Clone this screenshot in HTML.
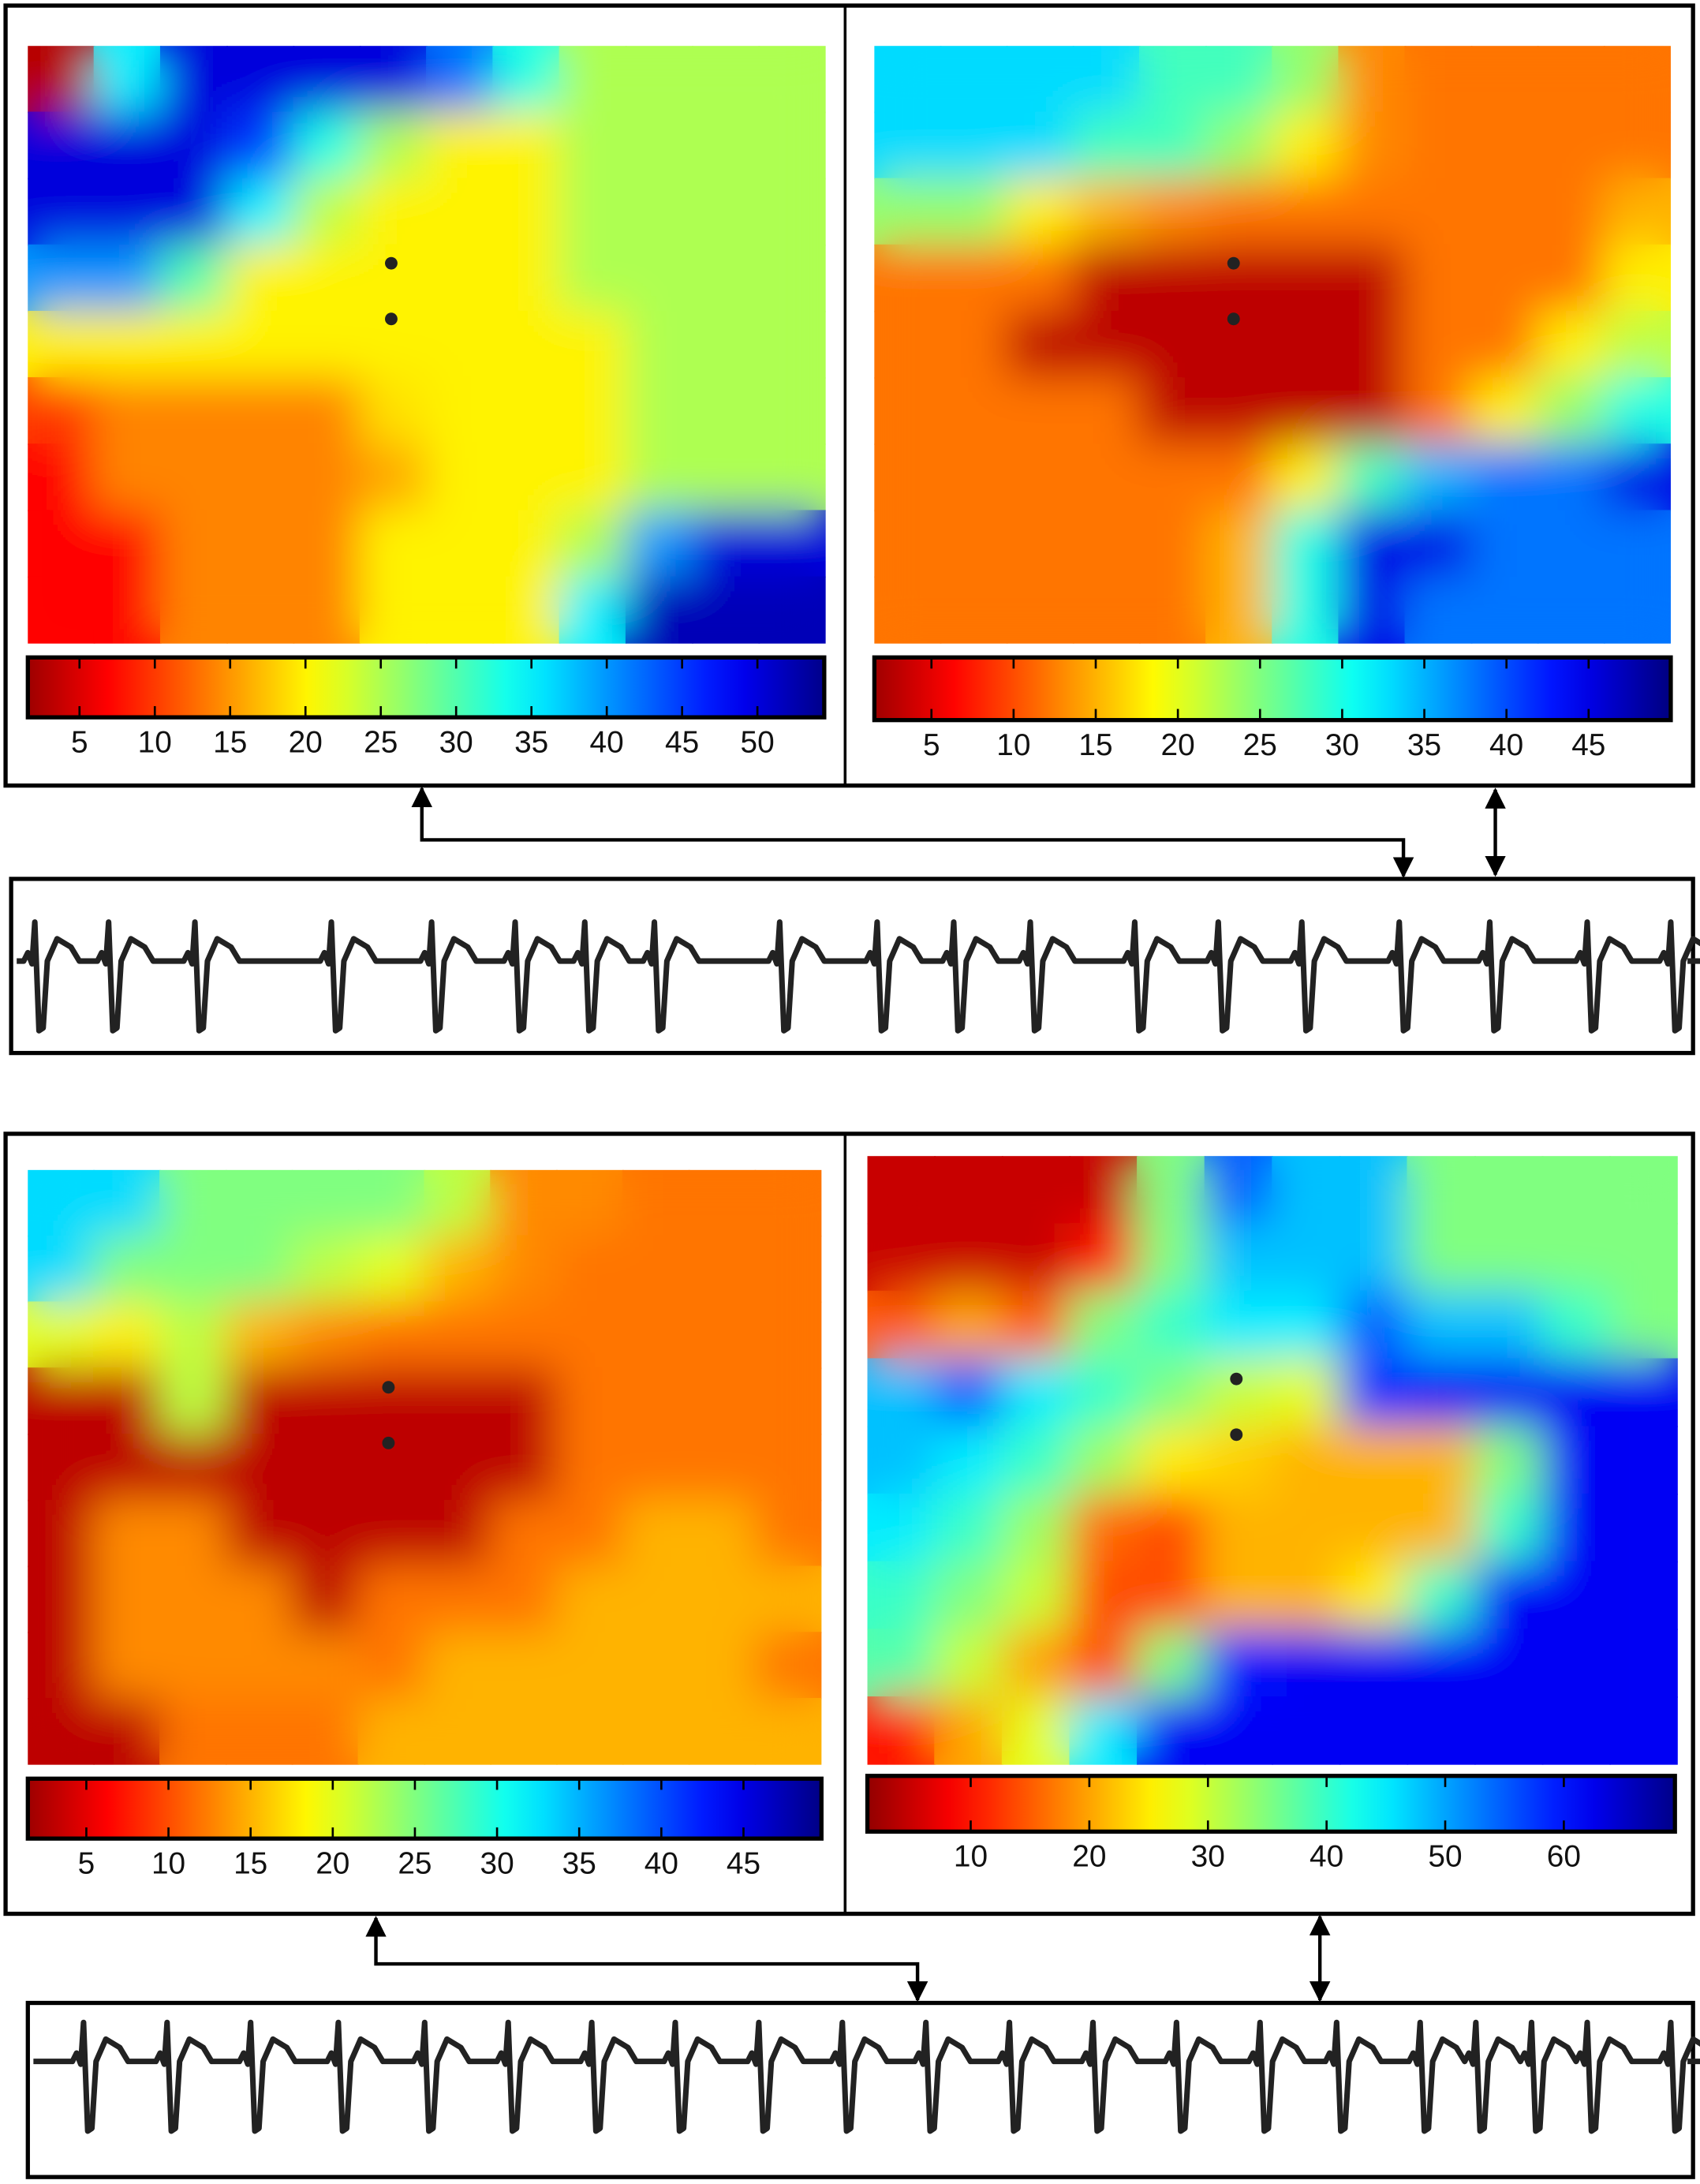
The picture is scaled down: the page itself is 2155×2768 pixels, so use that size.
<!DOCTYPE html>
<html><head><meta charset="utf-8"><style>
html,body{margin:0;padding:0;background:#fff;}
svg{display:block;}
text{font-family:"Liberation Sans",sans-serif;font-size:22px;fill:#111;}
</style></head><body>
<svg id="fig" xmlns="http://www.w3.org/2000/svg" width="2155" height="2768" viewBox="0 0 1221 1568" preserveAspectRatio="none">
<defs>
<filter id="blur" x="-5%" y="-5%" width="110%" height="110%"><feGaussianBlur stdDeviation="16"/></filter>
<marker id="ah" viewBox="0 0 10 10" refX="9" refY="5" markerWidth="6" markerHeight="6" orient="auto-start-reverse"><path d="M0,0L10,5L0,10z" fill="#000"/></marker>
</defs>
<rect x="4" y="4" width="1212" height="560" fill="none" stroke="#000" stroke-width="3"/>
<line x1="607" y1="4" x2="607" y2="564" stroke="#000" stroke-width="2"/>
<rect x="4" y="814" width="1212" height="560" fill="none" stroke="#000" stroke-width="3"/>
<line x1="607" y1="814" x2="607" y2="1374" stroke="#000" stroke-width="2"/>
<rect x="8" y="631" width="1208" height="125" fill="none" stroke="#000" stroke-width="3"/>
<rect x="20" y="1438" width="1196" height="125" fill="none" stroke="#000" stroke-width="3"/>
<polyline points="303,566 303,603 1008,603 1008,629" fill="none" stroke="#000" stroke-width="2.5" marker-start="url(#ah)" marker-end="url(#ah)"/>
<line x1="1074" y1="567" x2="1074" y2="628" stroke="#000" stroke-width="2.5" marker-start="url(#ah)" marker-end="url(#ah)"/>
<polyline points="270,1377 270,1410 659,1410 659,1436" fill="none" stroke="#000" stroke-width="2.5" marker-start="url(#ah)" marker-end="url(#ah)"/>
<line x1="948" y1="1376" x2="948" y2="1436" stroke="#000" stroke-width="2.5" marker-start="url(#ah)" marker-end="url(#ah)"/>
<g id="layer"></g>
</svg>
<script>
const map1Values=[
[3,35,50,50,50,50,42,33,25,25,25,25],
[50,50,50,45,33,25,20,20,25,25,25,25],
[50,50,50,35,24,20,20,20,25,25,25,25],
[40,40,30,20,20,20,20,20,25,25,25,25],
[20,20,20,20,20,20,20,20,20,25,25,25],
[10,14,14,14,14,19,20,20,20,25,25,25],
[7,14,14,14,14,16,20,20,20,25,25,25],
[7,7,14,14,14,20,20,20,25,40,50,50],
[7,7,14,14,14,20,20,20,35,52,52,52]];
const map2Values=[
[33,33,33,33,28,28,24,13,12,12,12,12],
[33,33,33,28,28,24,18,13,12,12,12,12],
[24,24,18,15,13,12,12,12,12,12,12,15],
[12,12,12,3,3,3,3,3,12,12,12,18],
[12,12,3,3,3,3,3,3,12,12,18,22],
[12,12,12,12,3,3,3,3,12,18,24,30],
[12,12,12,12,12,12,18,28,35,38,38,45],
[12,12,12,12,12,15,30,45,45,38,38,38],
[12,12,12,12,12,15,30,45,38,38,38,38]];
const map3Values=[
[33,33,25,25,25,25,22,13,13,12,12,12],
[33,25,25,25,22,20,15,13,12,12,12,12],
[20,18,22,15,13,12,12,12,12,12,12,12],
[3,3,22,3,3,3,3,3,12,12,12,12],
[3,3,3,3,3,3,3,3,12,12,12,12],
[3,13,13,3,3,3,3,12,12,15,15,12],
[3,13,13,13,3,12,12,12,15,15,15,15],
[3,13,13,13,13,12,15,15,15,15,15,12],
[3,3,12,12,12,15,15,15,15,15,15,15]];
const map4Values=[
[5,5,5,5,35,55,48,48,35,35,35,35],
[5,5,5,10,35,48,48,48,35,35,35,35],
[15,20,15,35,40,45,45,55,48,48,40,35],
[48,55,45,40,35,30,28,58,62,62,62,62],
[48,45,40,33,25,23,21,21,21,35,62,62],
[45,40,33,16,14,21,21,21,21,40,62,62],
[40,35,30,14,14,21,21,25,40,62,62,62],
[38,30,20,14,35,60,62,62,62,62,62,62],
[10,20,28,45,62,62,62,62,62,62,62,62]];
const map1Ticks=[5,10,15,20,25,30,35,40,45,50];
const map2Ticks=[5,10,15,20,25,30,35,40,45];
const map3Ticks=[5,10,15,20,25,30,35,40,45];
const map4Ticks=[10,20,30,40,50,60];
const ecgTopBeats=[25,78,140,238,310,370,420,470,560,630,685,740,815,875,935,1005,1070,1140,1200];
const ecgBottomBeats=[60,120,180,243,305,365,425,485,545,605,665,725,785,845,905,960,1020,1060,1100,1140,1200];

const NS="http://www.w3.org/2000/svg";
const layer=document.getElementById('layer');
function mk(tag,attrs,parent){const e=document.createElementNS(NS,tag);for(const k in attrs)e.setAttribute(k,attrs[k]);(parent||layer).appendChild(e);return e;}
function cl(x){return Math.max(0,Math.min(1,x));}
function jet(v,lo,hi){const t=1-(v-lo)/(hi-lo);const r=cl(1.5-Math.abs(4*t-3)),g=cl(1.5-Math.abs(4*t-2)),b=cl(1.5-Math.abs(4*t-1));return `rgb(${Math.round(r*255)},${Math.round(g*255)},${Math.round(b*255)})`;}

const panels=[
 {id:'map1',vals:map1Values,x:20,y:33,w:573,h:429,lo:0,hi:55,cb:{x:20,y:472,w:572,h:43},ticks:map1Ticks,t0:3,ts:10.82,dots:[[281,189],[281,229]]},
 {id:'map2',vals:map2Values,x:628,y:33,w:572,h:429,lo:0,hi:50,cb:{x:628,y:472,w:572,h:45},ticks:map2Ticks,t0:610,ts:11.8,dots:[[886,189],[886,229]]},
 {id:'map3',vals:map3Values,x:20,y:840,w:570,h:427,lo:0,hi:50,cb:{x:20,y:1277,w:570,h:43},ticks:map3Ticks,t0:3,ts:11.8,dots:[[279,996],[279,1036]]},
 {id:'map4',vals:map4Values,x:623,y:830,w:582,h:437,lo:0,hi:70,cb:{x:623,y:1275,w:580,h:40},ticks:map4Ticks,t0:612,ts:8.52,dots:[[888,990],[888,1030]]}
];
panels.forEach((p,pi)=>{
 const cp=mk('clipPath',{id:'clip'+pi},document.querySelector('defs'));
 mk('rect',{x:p.x,y:p.y,width:p.w,height:p.h},cp);
 const rows=p.vals.length,cols=p.vals[0].length,cw=p.w/cols,ch=p.h/rows;
 const g=mk('g',{'clip-path':`url(#clip${pi})`});
 
 
 [false,true].forEach(bl=>{
  const gg=mk('g',bl?{filter:'url(#blur)'}:{},g);
  p.vals.forEach((row,r)=>row.forEach((v,c)=>{
   const e=mk('rect',{x:p.x+c*cw-0.5,y:p.y+r*ch-0.5,width:cw+1,height:ch+1,fill:jet(v,p.lo,p.hi)},gg);
   
   
  }));
 });
 p.dots.forEach(d=>{const e=mk('circle',{cx:d[0],cy:d[1],r:4.5,fill:'#222'});
  
  });
 const gid='grad'+pi;
 const lg=mk('linearGradient',{id:gid,x1:'0',x2:'1',y1:'0',y2:'0'},document.querySelector('defs'));
 const vmin=(p.cb.x-p.t0)/p.ts,vmax=(p.cb.x+p.cb.w-p.t0)/p.ts;
 for(let i=0;i<=20;i++){const v=vmin+(vmax-vmin)*i/20;mk('stop',{offset:i/20,'stop-color':jet(v,p.lo,p.hi)},lg);}
 const cb=mk('rect',{x:p.cb.x,y:p.cb.y,width:p.cb.w,height:p.cb.h,fill:`url(#${gid})`,stroke:'#000','stroke-width':3});
 
 
 p.ticks.forEach(t=>{
  const x=p.t0+p.ts*t;
  const tk=mk('line',{x1:x,x2:x,y1:p.cb.y,y2:p.cb.y+8,stroke:'#000','stroke-width':1.5});
  
  
  const tk2=mk('line',{x1:x,x2:x,y1:p.cb.y+p.cb.h-8,y2:p.cb.y+p.cb.h,stroke:'#000','stroke-width':1.5});
  
  
  const tx=mk('text',{x:x,y:p.cb.y+p.cb.h+25,'text-anchor':'middle'});
  tx.textContent=t;
  
  
 });
});
function ecg(beats,x0,x1,base,name){
 let d=`M${x0},${base}`;
 beats.forEach(b=>{
  d+=` L${b-8},${base} L${b-5},${base-6} L${b-2},${base+2} L${b},${base-28} L${b+3},${base+50} L${b+6},${base+48} L${b+9},${base} L${b+16},${base-16} L${b+26},${base-10} L${b+32},${base}`;
 });
 d+=` L${x1},${base}`;
 const e=mk('path',{d:d,fill:'none',stroke:'#222','stroke-width':4,'stroke-linejoin':'round'});
 
 
}
ecg(ecgTopBeats,12,1212,690,'top-ecg-trace');
ecg(ecgBottomBeats,24,1212,1480,'bottom-ecg-trace');
</script>
</body></html>
